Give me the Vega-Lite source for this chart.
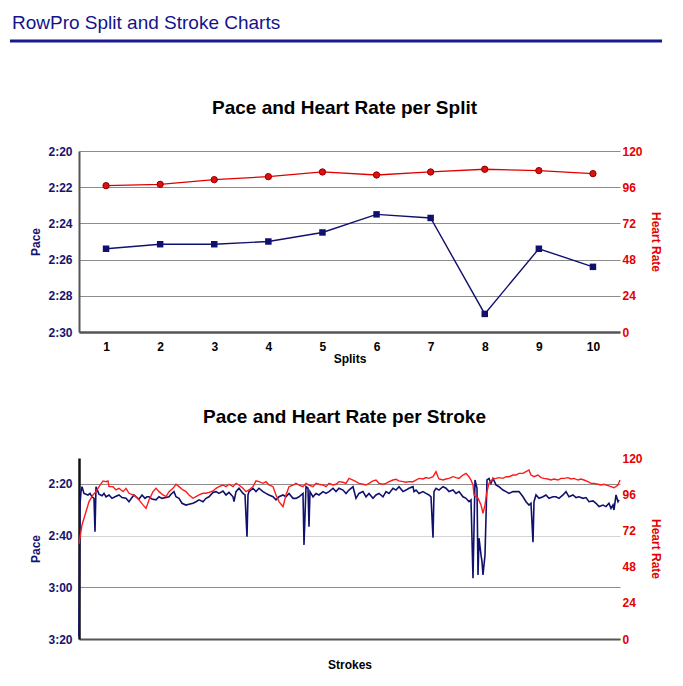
{
  "$schema": "https://vega.github.io/schema/vega-lite/v6.json",
  "autosize": {"type": "pad"},
  "padding": {"left": 8, "top": 0, "right": 5, "bottom": 5},
  "background": "white",
  "config": {
    "font": "Liberation Sans",
    "view": {"stroke": null},
    "axis": {"labelFont": "Liberation Sans", "titleFont": "Liberation Sans"},
    "title": {"font": "Liberation Sans"}
  },
  "datasets": {
    "splits": [
      {"split": 1, "pace": 145.4, "hr": 97},
      {"split": 2, "pace": 145.15, "hr": 97.9},
      {"split": 3, "pace": 145.15, "hr": 101},
      {"split": 4, "pace": 145.0, "hr": 103},
      {"split": 5, "pace": 144.5, "hr": 106.1},
      {"split": 6, "pace": 143.5, "hr": 104.1},
      {"split": 7, "pace": 143.7, "hr": 106.1},
      {"split": 8, "pace": 149.0, "hr": 107.9},
      {"split": 9, "pace": 145.4, "hr": 107},
      {"split": 10, "pace": 146.4, "hr": 105}
    ],
    "strokePace": [
      {"stroke": 0, "pace": 199}, {"stroke": 1, "pace": 148}, {"stroke": 2, "pace": 143}, {"stroke": 3, "pace": 141.1},
      {"stroke": 5, "pace": 143.7}, {"stroke": 7, "pace": 144}, {"stroke": 9, "pace": 144.3}, {"stroke": 11, "pace": 143.7},
      {"stroke": 13, "pace": 145}, {"stroke": 15, "pace": 145.6}, {"stroke": 16, "pace": 158.5}, {"stroke": 17, "pace": 141.1},
      {"stroke": 19, "pace": 143}, {"stroke": 20, "pace": 144}, {"stroke": 23, "pace": 144.6}, {"stroke": 25, "pace": 143.7},
      {"stroke": 27, "pace": 145}, {"stroke": 30, "pace": 144.3}, {"stroke": 33, "pace": 145.6}, {"stroke": 36, "pace": 145},
      {"stroke": 40, "pace": 144.3}, {"stroke": 43, "pace": 145.3}, {"stroke": 47, "pace": 145.6}, {"stroke": 50, "pace": 146.9},
      {"stroke": 53, "pace": 145.3}, {"stroke": 55, "pace": 144.3}, {"stroke": 58, "pace": 145.3}, {"stroke": 60, "pace": 145.9},
      {"stroke": 63, "pace": 144.3}, {"stroke": 66, "pace": 145.6}, {"stroke": 68, "pace": 145}, {"stroke": 70, "pace": 145},
      {"stroke": 73, "pace": 145.9}, {"stroke": 77, "pace": 146.2}, {"stroke": 80, "pace": 145}, {"stroke": 83, "pace": 145.6},
      {"stroke": 87, "pace": 145.3}, {"stroke": 90, "pace": 145}, {"stroke": 92, "pace": 144}, {"stroke": 95, "pace": 143},
      {"stroke": 97, "pace": 145}, {"stroke": 100, "pace": 145.6}, {"stroke": 103, "pace": 147.5}, {"stroke": 107, "pace": 148.2},
      {"stroke": 110, "pace": 147.9}, {"stroke": 114, "pace": 147.5}, {"stroke": 117, "pace": 146.9}, {"stroke": 120, "pace": 146.2},
      {"stroke": 124, "pace": 146.9}, {"stroke": 127, "pace": 145.6}, {"stroke": 130, "pace": 145}, {"stroke": 134, "pace": 143.3},
      {"stroke": 137, "pace": 143}, {"stroke": 140, "pace": 143.7}, {"stroke": 144, "pace": 142.8}, {"stroke": 147, "pace": 144.3},
      {"stroke": 150, "pace": 143.3}, {"stroke": 154, "pace": 145}, {"stroke": 155, "pace": 146.9}, {"stroke": 157, "pace": 143},
      {"stroke": 160, "pace": 141.7}, {"stroke": 164, "pace": 143.7}, {"stroke": 166, "pace": 144.3}, {"stroke": 168, "pace": 160.4},
      {"stroke": 169, "pace": 144.3}, {"stroke": 170, "pace": 143}, {"stroke": 174, "pace": 141.7}, {"stroke": 177, "pace": 143},
      {"stroke": 180, "pace": 141.7}, {"stroke": 184, "pace": 143}, {"stroke": 187, "pace": 143.7}, {"stroke": 190, "pace": 144.3},
      {"stroke": 194, "pace": 145}, {"stroke": 197, "pace": 146.2}, {"stroke": 200, "pace": 145}, {"stroke": 204, "pace": 144.3},
      {"stroke": 207, "pace": 145}, {"stroke": 210, "pace": 143.7}, {"stroke": 214, "pace": 145.6}, {"stroke": 217, "pace": 145.6},
      {"stroke": 220, "pace": 145}, {"stroke": 224, "pace": 143.7}, {"stroke": 225, "pace": 163.6}, {"stroke": 227, "pace": 141.1},
      {"stroke": 229, "pace": 141.7}, {"stroke": 230, "pace": 156.6}, {"stroke": 231, "pace": 143}, {"stroke": 234, "pace": 145},
      {"stroke": 237, "pace": 143.7}, {"stroke": 240, "pace": 144.3}, {"stroke": 244, "pace": 143}, {"stroke": 247, "pace": 143.7},
      {"stroke": 250, "pace": 143}, {"stroke": 254, "pace": 141.7}, {"stroke": 257, "pace": 143}, {"stroke": 260, "pace": 141.7},
      {"stroke": 264, "pace": 142.4}, {"stroke": 267, "pace": 143.7}, {"stroke": 270, "pace": 142.4}, {"stroke": 274, "pace": 141.1},
      {"stroke": 277, "pace": 145.6}, {"stroke": 280, "pace": 143.7}, {"stroke": 284, "pace": 143}, {"stroke": 287, "pace": 145},
      {"stroke": 290, "pace": 143.7}, {"stroke": 294, "pace": 145.6}, {"stroke": 297, "pace": 144.3}, {"stroke": 300, "pace": 143.7},
      {"stroke": 304, "pace": 145}, {"stroke": 307, "pace": 143}, {"stroke": 310, "pace": 143.7}, {"stroke": 314, "pace": 141.7},
      {"stroke": 317, "pace": 142.4}, {"stroke": 320, "pace": 141.1}, {"stroke": 324, "pace": 143}, {"stroke": 327, "pace": 142.4},
      {"stroke": 330, "pace": 141.7}, {"stroke": 334, "pace": 141.1}, {"stroke": 335, "pace": 143}, {"stroke": 337, "pace": 142.4},
      {"stroke": 340, "pace": 143.7}, {"stroke": 344, "pace": 143}, {"stroke": 347, "pace": 143.7}, {"stroke": 350, "pace": 144.3},
      {"stroke": 352, "pace": 145}, {"stroke": 354, "pace": 160.8}, {"stroke": 355, "pace": 143}, {"stroke": 357, "pace": 141.7},
      {"stroke": 360, "pace": 142.4}, {"stroke": 364, "pace": 141.1}, {"stroke": 367, "pace": 141.7}, {"stroke": 370, "pace": 143},
      {"stroke": 374, "pace": 142.4}, {"stroke": 377, "pace": 143.7}, {"stroke": 380, "pace": 143}, {"stroke": 384, "pace": 145},
      {"stroke": 387, "pace": 145.6}, {"stroke": 390, "pace": 146.9}, {"stroke": 392, "pace": 146.2}, {"stroke": 394, "pace": 176.5},
      {"stroke": 396, "pace": 138.5}, {"stroke": 398, "pace": 141.7}, {"stroke": 399, "pace": 175.2}, {"stroke": 400, "pace": 161},
      {"stroke": 402, "pace": 167.5}, {"stroke": 403, "pace": 170.1}, {"stroke": 404, "pace": 175.2}, {"stroke": 406, "pace": 167.5},
      {"stroke": 408, "pace": 138.5}, {"stroke": 410, "pace": 137.9}, {"stroke": 412, "pace": 139.8}, {"stroke": 414, "pace": 137.9},
      {"stroke": 417, "pace": 140.4}, {"stroke": 420, "pace": 141.1}, {"stroke": 424, "pace": 142.4}, {"stroke": 427, "pace": 143},
      {"stroke": 430, "pace": 143.7}, {"stroke": 434, "pace": 143}, {"stroke": 437, "pace": 143}, {"stroke": 440, "pace": 143},
      {"stroke": 444, "pace": 145}, {"stroke": 447, "pace": 146.9}, {"stroke": 450, "pace": 148.2}, {"stroke": 452, "pace": 147.5},
      {"stroke": 454, "pace": 162.6}, {"stroke": 455, "pace": 146.9}, {"stroke": 457, "pace": 144.3}, {"stroke": 460, "pace": 145.6},
      {"stroke": 464, "pace": 145}, {"stroke": 467, "pace": 144.3}, {"stroke": 470, "pace": 145.6}, {"stroke": 474, "pace": 145},
      {"stroke": 477, "pace": 145}, {"stroke": 480, "pace": 145.6}, {"stroke": 484, "pace": 144.3}, {"stroke": 487, "pace": 143},
      {"stroke": 490, "pace": 145}, {"stroke": 494, "pace": 144.3}, {"stroke": 497, "pace": 145.3}, {"stroke": 500, "pace": 145},
      {"stroke": 504, "pace": 145.6}, {"stroke": 507, "pace": 145.3}, {"stroke": 510, "pace": 146.9}, {"stroke": 514, "pace": 146.6},
      {"stroke": 517, "pace": 147.5}, {"stroke": 520, "pace": 148.8}, {"stroke": 524, "pace": 148.2}, {"stroke": 527, "pace": 148.8},
      {"stroke": 530, "pace": 147.5}, {"stroke": 532, "pace": 149.5}, {"stroke": 534, "pace": 148.2}, {"stroke": 535, "pace": 150.1},
      {"stroke": 537, "pace": 144.3}, {"stroke": 539, "pace": 146.9}, {"stroke": 540, "pace": 146.2}
    ],
    "strokeHR": [
      {"stroke": 0, "hr": 63}, {"stroke": 3, "hr": 75.6}, {"stroke": 7, "hr": 84.4}, {"stroke": 10, "hr": 91.1},
      {"stroke": 14, "hr": 95.5}, {"stroke": 17, "hr": 97.7}, {"stroke": 20, "hr": 101}, {"stroke": 24, "hr": 104.8},
      {"stroke": 27, "hr": 104.3}, {"stroke": 29, "hr": 104.8}, {"stroke": 30, "hr": 101}, {"stroke": 34, "hr": 101},
      {"stroke": 37, "hr": 98.8}, {"stroke": 40, "hr": 99.9}, {"stroke": 44, "hr": 97.7}, {"stroke": 47, "hr": 99.9},
      {"stroke": 50, "hr": 96.6}, {"stroke": 54, "hr": 95.5}, {"stroke": 57, "hr": 94.4}, {"stroke": 60, "hr": 92.2},
      {"stroke": 64, "hr": 88.9}, {"stroke": 67, "hr": 86.6}, {"stroke": 70, "hr": 92.2}, {"stroke": 74, "hr": 97.7},
      {"stroke": 77, "hr": 99.9}, {"stroke": 80, "hr": 97.7}, {"stroke": 84, "hr": 95.5}, {"stroke": 87, "hr": 94.4},
      {"stroke": 90, "hr": 97.7}, {"stroke": 94, "hr": 99.9}, {"stroke": 97, "hr": 102.6}, {"stroke": 100, "hr": 101},
      {"stroke": 104, "hr": 98.8}, {"stroke": 107, "hr": 97.7}, {"stroke": 110, "hr": 95.5}, {"stroke": 114, "hr": 93.3},
      {"stroke": 117, "hr": 94.4}, {"stroke": 120, "hr": 95.5}, {"stroke": 124, "hr": 96.6}, {"stroke": 127, "hr": 96.6},
      {"stroke": 130, "hr": 97.2}, {"stroke": 134, "hr": 98.1}, {"stroke": 137, "hr": 99.9}, {"stroke": 140, "hr": 101},
      {"stroke": 144, "hr": 102.1}, {"stroke": 147, "hr": 101}, {"stroke": 150, "hr": 102.6}, {"stroke": 154, "hr": 101},
      {"stroke": 157, "hr": 103.2}, {"stroke": 160, "hr": 102.1}, {"stroke": 164, "hr": 99.9}, {"stroke": 167, "hr": 97.7},
      {"stroke": 170, "hr": 98.8}, {"stroke": 174, "hr": 101}, {"stroke": 177, "hr": 104.8}, {"stroke": 180, "hr": 104.3},
      {"stroke": 184, "hr": 103.2}, {"stroke": 187, "hr": 104.3}, {"stroke": 190, "hr": 102.1}, {"stroke": 194, "hr": 101},
      {"stroke": 197, "hr": 95.5}, {"stroke": 200, "hr": 91.1}, {"stroke": 204, "hr": 87.7}, {"stroke": 207, "hr": 95.5},
      {"stroke": 210, "hr": 101}, {"stroke": 214, "hr": 102.1}, {"stroke": 217, "hr": 103.2}, {"stroke": 220, "hr": 102.1},
      {"stroke": 224, "hr": 101}, {"stroke": 227, "hr": 103.2}, {"stroke": 230, "hr": 102.1}, {"stroke": 234, "hr": 101},
      {"stroke": 237, "hr": 103.2}, {"stroke": 240, "hr": 102.6}, {"stroke": 244, "hr": 102.1}, {"stroke": 247, "hr": 101},
      {"stroke": 250, "hr": 103.2}, {"stroke": 254, "hr": 102.1}, {"stroke": 257, "hr": 102.6}, {"stroke": 260, "hr": 104.3},
      {"stroke": 264, "hr": 103.9}, {"stroke": 267, "hr": 103.2}, {"stroke": 270, "hr": 106.5}, {"stroke": 274, "hr": 105.4},
      {"stroke": 277, "hr": 104.3}, {"stroke": 280, "hr": 103.2}, {"stroke": 284, "hr": 102.6}, {"stroke": 287, "hr": 102.1},
      {"stroke": 290, "hr": 103.2}, {"stroke": 294, "hr": 104.8}, {"stroke": 297, "hr": 105.4}, {"stroke": 300, "hr": 103.2},
      {"stroke": 304, "hr": 102.6}, {"stroke": 307, "hr": 103.2}, {"stroke": 310, "hr": 104.3}, {"stroke": 314, "hr": 105.4},
      {"stroke": 317, "hr": 105.9}, {"stroke": 320, "hr": 104.8}, {"stroke": 324, "hr": 104.3}, {"stroke": 327, "hr": 103.9},
      {"stroke": 330, "hr": 104.3}, {"stroke": 334, "hr": 104.3}, {"stroke": 337, "hr": 105.4}, {"stroke": 340, "hr": 106.5},
      {"stroke": 344, "hr": 106.1}, {"stroke": 347, "hr": 107}, {"stroke": 350, "hr": 106.5}, {"stroke": 354, "hr": 107.6},
      {"stroke": 357, "hr": 111}, {"stroke": 359, "hr": 107.6}, {"stroke": 360, "hr": 106.1}, {"stroke": 364, "hr": 105.4},
      {"stroke": 367, "hr": 106.1}, {"stroke": 370, "hr": 106.5}, {"stroke": 374, "hr": 107.6}, {"stroke": 377, "hr": 107},
      {"stroke": 380, "hr": 106.5}, {"stroke": 384, "hr": 108.7}, {"stroke": 387, "hr": 109.8}, {"stroke": 390, "hr": 107.6},
      {"stroke": 392, "hr": 105.4}, {"stroke": 394, "hr": 102.1}, {"stroke": 395, "hr": 95.5}, {"stroke": 399, "hr": 93.3},
      {"stroke": 402, "hr": 88.9}, {"stroke": 404, "hr": 83.3}, {"stroke": 406, "hr": 88.9}, {"stroke": 408, "hr": 97.7},
      {"stroke": 410, "hr": 103.2}, {"stroke": 414, "hr": 106.1}, {"stroke": 417, "hr": 106.5}, {"stroke": 420, "hr": 107},
      {"stroke": 424, "hr": 106.5}, {"stroke": 427, "hr": 107.6}, {"stroke": 430, "hr": 107.6}, {"stroke": 434, "hr": 108.7},
      {"stroke": 437, "hr": 108.7}, {"stroke": 440, "hr": 109.8}, {"stroke": 444, "hr": 109.8}, {"stroke": 447, "hr": 111},
      {"stroke": 450, "hr": 112.1}, {"stroke": 452, "hr": 108.7}, {"stroke": 455, "hr": 107.6}, {"stroke": 459, "hr": 108.7},
      {"stroke": 462, "hr": 107}, {"stroke": 465, "hr": 106.5}, {"stroke": 469, "hr": 106.1}, {"stroke": 472, "hr": 105.4},
      {"stroke": 475, "hr": 106.1}, {"stroke": 479, "hr": 105.4}, {"stroke": 482, "hr": 106.5}, {"stroke": 485, "hr": 106.5},
      {"stroke": 489, "hr": 107}, {"stroke": 492, "hr": 106.1}, {"stroke": 495, "hr": 106.5}, {"stroke": 499, "hr": 105.4},
      {"stroke": 502, "hr": 106.1}, {"stroke": 505, "hr": 105.4}, {"stroke": 509, "hr": 104.3}, {"stroke": 512, "hr": 103.2},
      {"stroke": 515, "hr": 103.2}, {"stroke": 519, "hr": 102.6}, {"stroke": 522, "hr": 102.1}, {"stroke": 525, "hr": 102.6},
      {"stroke": 529, "hr": 101.7}, {"stroke": 532, "hr": 101}, {"stroke": 535, "hr": 100.3}, {"stroke": 539, "hr": 102.1},
      {"stroke": 541, "hr": 105.4}
    ],
    "heading": [{"heading": "RowPro Split and Stroke Charts"}]
  },
  "bounds": "flush",
  "spacing": 126,
  "vconcat": [
    {
      "width": 541,
      "height": 25,
      "data": {"name": "heading"},
      "title": {
        "text": "RowPro Split and Stroke Charts",
        "orient": "bottom",
        "anchor": "start",
        "frame": "group",
        "dx": -67,
        "dy": -17,
        "offset": 3,
        "baseline": "alphabetic",
        "fontSize": 19,
        "fontWeight": "normal",
        "color": "#14148a"
      },
      "mark": {"type": "rule", "color": "#1a1a8f", "strokeWidth": 3, "xOffset": -69, "x2Offset": 42, "yOffset": 16},
      "encoding": {
        "x": {"datum": 0, "type": "quantitative", "scale": {"domain": [0, 1], "nice": false}, "axis": null},
        "x2": {"datum": 1},
        "y": {"datum": 0, "type": "quantitative", "scale": {"domain": [0, 1], "nice": false}, "axis": null}
      }
    },
    {
      "width": 541,
      "height": 181,
      "data": {"name": "splits"},
      "title": {
        "text": "Pace and Heart Rate per Split",
        "fontSize": 19,
        "fontWeight": "bold",
        "color": "#000000",
        "offset": 12,
        "dx": -5,
        "baseline": "alphabetic",
        "frame": "group",
        "anchor": "middle"
      },
      "encoding": {
        "x": {
          "field": "split",
          "type": "ordinal",
          "scale": {"type": "point", "padding": 0.5},
          "axis": {
            "title": "Splits",
            "labelAngle": 0,
            "labelFontSize": 12,
            "labelFontWeight": "bold",
            "labelColor": "#000000",
            "labelPadding": 9,
            "ticks": false,
            "domainColor": "#555555",
            "domainWidth": 2.5,
            "titleFontSize": 12,
            "titleFontWeight": "bold",
            "titleColor": "#000000",
            "titlePadding": 1,
            "grid": false
          }
        }
      },
      "layer": [
        {
          "encoding": {
            "y": {
              "field": "pace",
              "type": "quantitative",
              "scale": {"domain": [140, 150], "reverse": true, "nice": false, "zero": false},
              "axis": {
                "orient": "left",
                "title": "Pace",
                "values": [140, 142, 144, 146, 148, 150],
                "labelExpr": "floor(datum.value/60) + ':' + (datum.value % 60 < 10 ? '0' : '') + (datum.value % 60)",
                "grid": true,
                "gridColor": "#8c8c8c",
                "gridWidth": 1,
                "ticks": false,
                "domainColor": "#555555",
                "domainWidth": 2,
                "labelColor": "#141470",
                "labelFontSize": 12,
                "labelFontWeight": "bold",
                "labelPadding": 7,
                "titleColor": "#141470",
                "titleFontSize": 12,
                "titleFontWeight": "bold",
                "titlePadding": 5
              }
            }
          },
          "layer": [
            {"mark": {"type": "line", "color": "#10106e", "strokeWidth": 1.4}},
            {"mark": {"type": "square", "color": "#10106e", "size": 42, "opacity": 1, "filled": true}}
          ]
        },
        {
          "encoding": {
            "y": {
              "field": "hr",
              "type": "quantitative",
              "scale": {"domain": [0, 120], "nice": false},
              "axis": {
                "orient": "right",
                "title": "Heart Rate",
                "values": [0, 24, 48, 72, 96, 120],
                "grid": false,
                "domain": false,
                "ticks": false,
                "labelColor": "#e60000",
                "labelFontSize": 12,
                "labelFontWeight": "bold",
                "labelPadding": 2,
                "titleColor": "#e60000",
                "titleFontSize": 12,
                "titleFontWeight": "bold",
                "titlePadding": 6
              }
            }
          },
          "layer": [
            {"mark": {"type": "line", "color": "#e00000", "strokeWidth": 1.3}},
            {"mark": {"type": "circle", "fill": "#e01010", "stroke": "#8a0000", "strokeWidth": 1, "size": 40, "opacity": 1}}
          ]
        }
      ],
      "resolve": {"scale": {"y": "independent"}}
    },
    {
      "width": 541,
      "height": 181,
      "title": {
        "text": "Pace and Heart Rate per Stroke",
        "fontSize": 19,
        "fontWeight": "bold",
        "color": "#000000",
        "offset": 10,
        "dx": -5,
        "baseline": "alphabetic",
        "frame": "group",
        "anchor": "middle"
      },
      "encoding": {
        "x": {
          "field": "stroke",
          "type": "quantitative",
          "scale": {"domain": [0, 541], "nice": false, "zero": false},
          "axis": {
            "title": "Strokes",
            "labels": false,
            "ticks": false,
            "grid": false,
            "domainColor": "#555555",
            "domainWidth": 2,
            "titleFontSize": 12,
            "titleFontWeight": "bold",
            "titleColor": "#000000",
            "titlePadding": 20
          }
        }
      },
      "layer": [
        {
          "data": {"name": "strokePace"},
          "mark": {"type": "line", "color": "#10106e", "strokeWidth": 1.6},
          "encoding": {
            "y": {
              "field": "pace",
              "type": "quantitative",
              "scale": {"domain": [130, 200], "reverse": true, "nice": false, "zero": false},
              "axis": {
                "orient": "left",
                "title": "Pace",
                "values": [140, 160, 180, 200],
                "labelExpr": "floor(datum.value/60) + ':' + (datum.value % 60 < 10 ? '0' : '') + (datum.value % 60)",
                "grid": true,
                "gridColor": {"condition": {"test": "datum.value === 160", "value": "#d4d4d4"}, "value": "#8c8c8c"},
                "gridWidth": 1,
                "ticks": false,
                "domainColor": "#111111",
                "domainWidth": 2.5,
                "labelColor": "#141470",
                "labelFontSize": 12,
                "labelFontWeight": "bold",
                "labelPadding": 7,
                "titleColor": "#141470",
                "titleFontSize": 12,
                "titleFontWeight": "bold",
                "titlePadding": 5
              }
            }
          }
        },
        {
          "data": {"name": "strokeHR"},
          "mark": {"type": "line", "color": "#ff1a1a", "strokeWidth": 1.4},
          "encoding": {
            "y": {
              "field": "hr",
              "type": "quantitative",
              "scale": {"domain": [0, 120], "nice": false},
              "axis": {
                "orient": "right",
                "title": "Heart Rate",
                "values": [0, 24, 48, 72, 96, 120],
                "grid": false,
                "domain": false,
                "ticks": false,
                "labelColor": "#e60000",
                "labelFontSize": 12,
                "labelFontWeight": "bold",
                "labelPadding": 2,
                "titleColor": "#e60000",
                "titleFontSize": 12,
                "titleFontWeight": "bold",
                "titlePadding": 6
              }
            }
          }
        }
      ],
      "resolve": {"scale": {"y": "independent"}}
    }
  ]
}
